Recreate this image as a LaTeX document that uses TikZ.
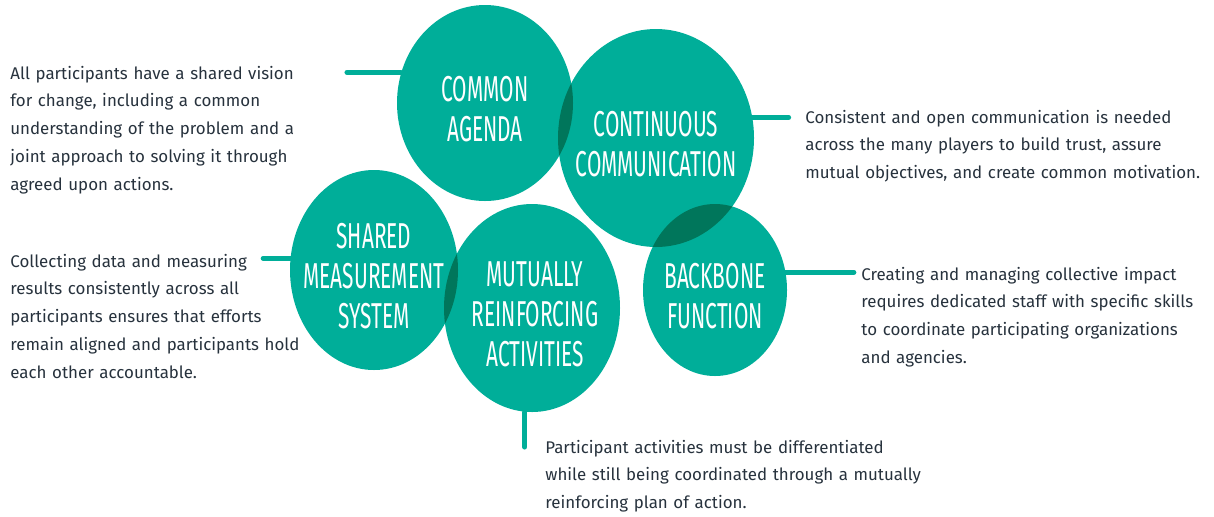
\documentclass[tikz,border=0pt]{standalone}
\usepackage{fontspec}
\setmainfont{Fira Sans}
\newfontfamily\capsfont[FakeStretch=0.58]{Fira Sans}
\usetikzlibrary{positioning,shapes.geometric}
\definecolor{Teal}{HTML}{00AE99}
\definecolor{Ink}{HTML}{27323D}
\tikzset{
 pillar/.style={ellipse, fill=Teal, inner sep=0pt},
 pillartext/.style={text=white, align=center, inner sep=0pt, yshift=-3pt, font=\capsfont\fontsize{18}{20}\selectfont},
 note/.style={anchor=base west, text=Ink, text width=230pt, align=left, inner sep=0pt, font=\fontsize{8.45}{13.9}\selectfont},
 link/.style={draw=Teal, line width=2.5pt, line cap=round}
}

\begin{document}
\begin{tikzpicture}[x=0.5pt,y=-0.5pt]
\useasboundingbox (0,0) rectangle (1214,516);
% the five conditions; where they overlap they get darker
\begin{scope}[blend group=multiply]
\node[pillar,minimum width=88pt,minimum height=98pt] (agenda) at (485,103) {};
\node[pillar,minimum width=98pt,minimum height=109pt] (comm) at (656,138) {};
\node[pillar,minimum width=84pt,minimum height=100pt] (measure) at (374,270) {};
\node[pillar,minimum width=88pt,minimum height=104pt] (mutual) at (532,308) {};
\node[pillar,minimum width=72pt,minimum height=86pt] (backbone) at (715,290) {};
\end{scope}
\node[pillartext] (agendaText) at (agenda) {COMMON\\AGENDA};
\node[pillartext] (commText) at (comm) {CONTINUOUS\\COMMUNICATION};
\node[pillartext] (measureText) at (measure) {SHARED\\MEASUREMENT\\SYSTEM};
\node[pillartext,xshift=1.5pt] (mutualText) at (mutual) {MUTUALLY\\REINFORCING\\ACTIVITIES};
\node[pillartext] (backboneText) at (backbone) {BACKBONE\\FUNCTION};
% short stubs out to the descriptions
\coordinate[left=27pt of agenda.160] (agendaEnd);
\coordinate[right=18pt of comm.12] (commEnd);
\coordinate[left=13.5pt of measure.172] (measureEnd);
\coordinate[right=34pt of backbone.14] (backboneEnd);
\coordinate[below=17.5pt of mutual.266] (mutualEnd);
\draw[link] (agendaEnd) -- (agenda.160);
\draw[link] (commEnd) -- (comm.12);
\draw[link] (measureEnd) -- (measure.172);
\draw[link] (backboneEnd) -- (backbone.14);
\draw[link] (mutualEnd) -- (mutual.266);
% descriptions
\node[note] (agendaNote) at (10,79) {All participants have a shared vision\\for change, including a common\\understanding of the problem and a\\joint approach to solving it through\\agreed upon actions.};
\node[note] (commNote) at (805,123) {Consistent and open communication is needed\\across the many players to build trust, assure\\mutual objectives, and create common motivation.};
\node[note] (measureNote) at (10,267) {Collecting data and measuring\\results consistently across all\\participants ensures that efforts\\remain aligned and participants hold\\each other accountable.};
\node[note] (backboneNote) at (861,280) {Creating and managing collective impact\\requires dedicated staff with specific skills\\to coordinate participating organizations\\and agencies.};
\node[note] (mutualNote) at (545,453) {Participant activities must be differentiated\\while still being coordinated through a mutually\\reinforcing plan of action.};
\end{tikzpicture}
\end{document}
